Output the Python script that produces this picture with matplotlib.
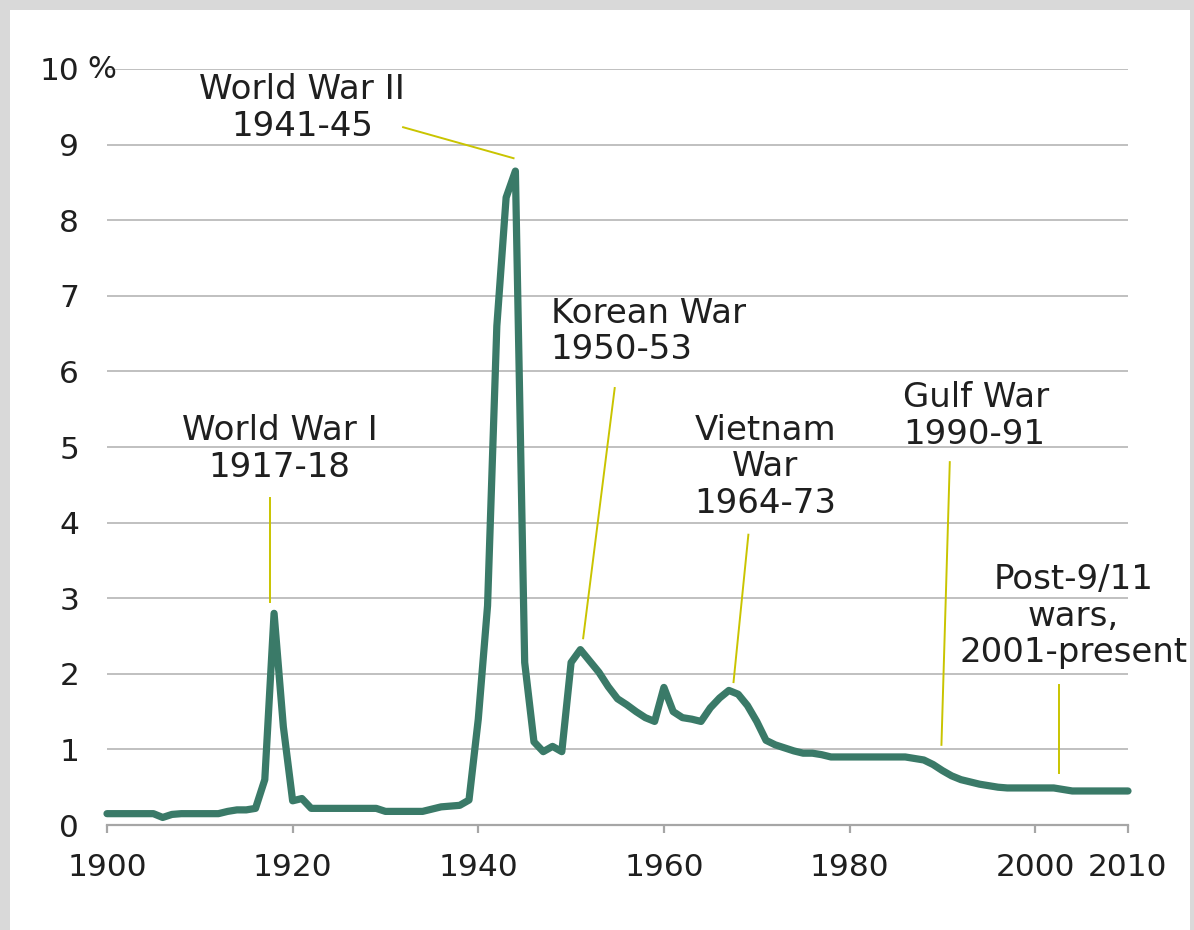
import numpy as np
import matplotlib
matplotlib.use("Agg")
import matplotlib.pyplot as plt
from matplotlib.patches import Rectangle

# =========================
# data
# =========================
years = list(range(1900, 2011))
share = [
    0.15, 0.15, 0.15, 0.15, 0.15, 0.15, 0.10, 0.14, 0.15, 0.15,   # 1900-09
    0.15, 0.15, 0.15, 0.18, 0.20, 0.20, 0.22, 0.60, 2.80, 1.30,   # 1910-19
    0.32, 0.35, 0.22, 0.22, 0.22, 0.22, 0.22, 0.22, 0.22, 0.22,   # 1920-29
    0.18, 0.18, 0.18, 0.18, 0.18, 0.21, 0.24, 0.25, 0.26, 0.33,   # 1930-39
    1.40, 2.90, 6.60, 8.30, 8.65, 2.15, 1.10, 0.97, 1.04, 0.97,   # 1940-49
    2.15, 2.32, 2.17, 2.02, 1.83, 1.67, 1.59, 1.50, 1.42, 1.37,   # 1950-59
    1.82, 1.50, 1.42, 1.40, 1.37, 1.55, 1.68, 1.78, 1.73, 1.58,   # 1960-69
    1.37, 1.12, 1.06, 1.02, 0.98, 0.95, 0.95, 0.93, 0.90, 0.90,   # 1970-79
    0.90, 0.90, 0.90, 0.90, 0.90, 0.90, 0.90, 0.88, 0.86, 0.80,   # 1980-89
    0.72, 0.65, 0.60, 0.57, 0.54, 0.52, 0.50, 0.49, 0.49, 0.49,   # 1990-99
    0.49, 0.49, 0.49, 0.47, 0.45, 0.45, 0.45, 0.45, 0.45, 0.45,   # 2000-09
    0.45,                                                         # 2010
]

x_ticks = [1900, 1920, 1940, 1960, 1980, 2000, 2010]
y_ticks = list(range(0, 11))

war_labels = [
    "World War II\n1941-45",
    "World War I\n1917-18",
    "Korean War\n1950-53",
    "Vietnam\nWar\n1964-73",
    "Gulf War\n1990-91",
    "Post-9/11\nwars,\n2001-present",
]

# =========================
# styles / layout
# =========================
line_color = "#3a7a68"
leader_color = "#c9c400"
text_color = "#1f1f1f"
grid_color = "#c0c0c0"

# label position, alignment, leader line (start, end)
label_layout = [
    ((1921.0, 9.48), "center", ((1931.9, 9.23), (1943.8, 8.82))),
    ((1918.6, 4.97), "center", ((1917.6, 4.33), (1917.6, 2.95))),
    ((1947.8, 6.53), "left",   ((1954.7, 5.78), (1951.3, 2.47))),
    ((1970.9, 4.74), "center", ((1969.1, 3.84), (1967.5, 1.89))),
    ((1985.8, 5.41), "left",   ((1990.8, 4.80), (1989.9, 1.06))),
    ((2004.1, 2.76), "center", ((2002.6, 1.85), (2002.6, 0.69))),
]

fig = plt.figure(figsize=(11.94, 9.30), dpi=100)
fig.patch.set_facecolor("#d9d9d9")
fig.patches.append(Rectangle((10 / 1194, 0), 1180 / 1194, 920 / 930,
                             transform=fig.transFigure, facecolor="white",
                             edgecolor="none", zorder=-10))

ax = fig.add_axes([107 / 1194, 105 / 930, 1021 / 1194, 756 / 930])
ax.set_facecolor("none")

ax.plot(years, share, color=line_color, lw=5.2, solid_joinstyle="round",
        solid_capstyle="round", zorder=3, clip_on=False)

ax.set_xlim(1900, 2010)
ax.set_ylim(0, 10)
ax.set_xticks(x_ticks)
ax.set_xticklabels([str(t) for t in x_ticks])
ax.set_yticks(y_ticks)
ax.set_yticklabels([str(t) for t in y_ticks])

for t in y_ticks[1:]:
    ax.axhline(t, color=grid_color, lw=1.4, zorder=1)

for s in ["top", "right", "left"]:
    ax.spines[s].set_visible(False)
ax.spines["bottom"].set_color("#a6a6a6")
ax.spines["bottom"].set_linewidth(1.6)

ax.tick_params(axis="x", direction="out", length=6, width=1.6,
               color="#a6a6a6", pad=14, labelsize=22.5, labelcolor=text_color)
ax.tick_params(axis="y", length=0, pad=20, labelsize=22.5, labelcolor=text_color)

# "%" after the top label
ax.text(-0.019, 1.0, "%", transform=ax.transAxes, fontsize=22,
        color=text_color, ha="left", va="center")

for label, (pos, align, (p0, p1)) in zip(war_labels, label_layout):
    ax.text(pos[0], pos[1], label, ha=align, va="center", multialignment=align,
            fontsize=24.5, color=text_color, linespacing=1.14, zorder=4)
    ax.plot([p0[0], p1[0]], [p0[1], p1[1]], color=leader_color, lw=1.4,
            zorder=2, clip_on=False)

fig.savefig("out.png", dpi=100, facecolor=fig.get_facecolor())
